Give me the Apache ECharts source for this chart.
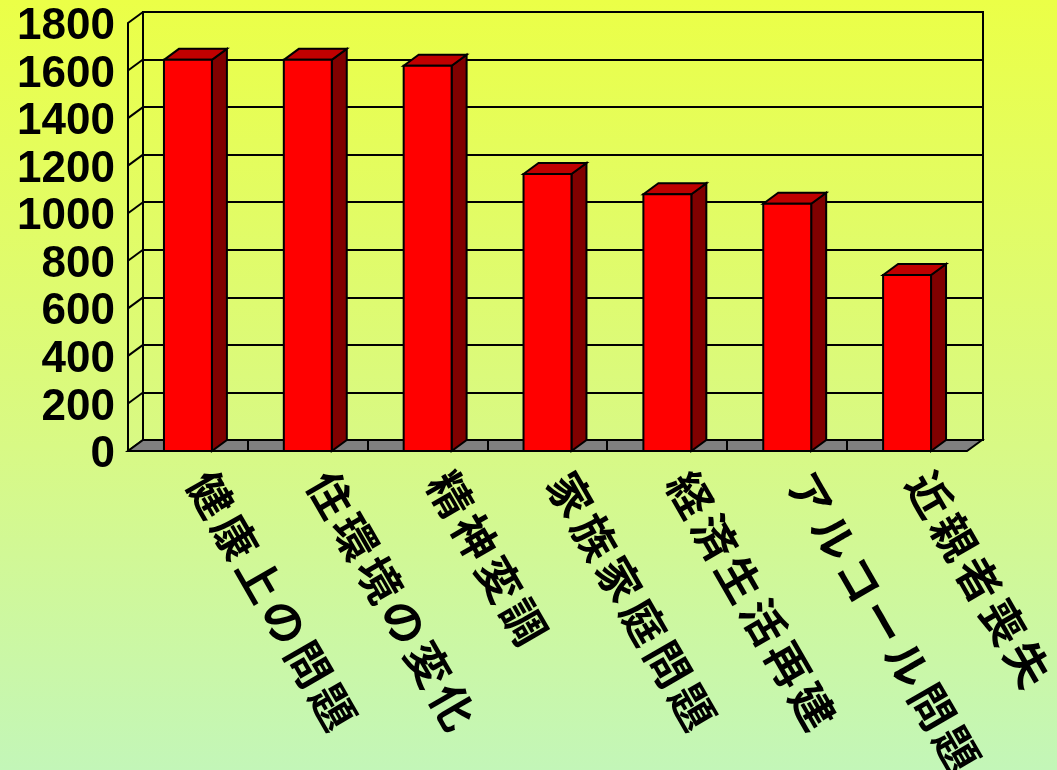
<!DOCTYPE html>
<html>
<head>
<meta charset="utf-8">
<script src="https://cdn.jsdelivr.net/npm/echarts@6/dist/echarts.min.js"></script>
<style>
  html, body { margin: 0; padding: 0; }
  #chart {
    width: 1057px; height: 770px;
    background: linear-gradient(to bottom, #ebff47 0%, #d8f985 58%, #c3f6b8 100%);
  }
</style>
</head>
<body>
<div id="chart"></div>
<script>
const categories = ['健康上の問題', '住環境の変化', '精神変調', '家族家庭問題', '経済生活再建', 'アルコール問題', '近親者喪失'];
const counts = [1645, 1645, 1620, 1165, 1080, 1040, 740];
const yTicks = [0, 200, 400, 600, 800, 1000, 1200, 1400, 1600, 1800];

const DX = 15, DY = -11;

const chart = echarts.init(document.getElementById('chart'), null, { renderer: 'canvas' });

const option = {
  backgroundColor: 'transparent',
  animation: false,
  grid: [
    { left: 128, top: 23, width: 839, height: 428, containLabel: false, outerBoundsMode: 'none' },
    { left: 143, top: 12, width: 840, height: 428, containLabel: false, outerBoundsMode: 'none',
      show: true, borderColor: '#000', borderWidth: 2, backgroundColor: 'transparent' }
  ],
  xAxis: [
    {
      type: 'category', gridIndex: 0, data: categories,
      axisLine: { show: false }, axisTick: { show: false },
      axisLabel: {
        interval: 0, rotate: -60, margin: 4, padding: [0, 0, 0, 21],
        color: '#000',
        formatter: v => Array.from(v).map(c => '{c|' + c + '}').join(''),
        rich: {
          c: { width: 49, align: 'center', fontSize: 44, fontWeight: 'bold',
               fontFamily: '"Noto Sans CJK JP", sans-serif', color: '#000' }
        }
      }
    },
    { type: 'category', gridIndex: 1, data: categories, show: false }
  ],
  yAxis: [
    {
      type: 'value', gridIndex: 0, min: 0, max: 1800, interval: 200,
      axisLine: { show: true, lineStyle: { color: '#000', width: 2 } },
      axisTick: { show: false },
      splitLine: { show: false },
      axisLabel: {
        margin: 13, color: '#000',
        formatter: v => '{n|' + v + '}',
        rich: {
          n: { fontSize: 44, fontWeight: 'bold', color: '#000',
               fontFamily: '"Liberation Sans", Arial, sans-serif',
               padding: [8, 0, 0, 0] }
        }
      }
    },
    {
      type: 'value', gridIndex: 1, min: 0, max: 1800, interval: 200,
      axisLine: { show: false }, axisTick: { show: false },
      axisLabel: { show: false },
      splitLine: { show: true, lineStyle: { color: '#000', width: 2 } }
    }
  ],
  series: [
    {
      type: 'custom', xAxisIndex: 0, yAxisIndex: 0,
      data: yTicks.map(v => [0, v]),
      encode: { x: 0, y: 1 },
      silent: true,
      renderItem: (params, api) => {
        const cs = params.coordSys;
        const p = api.coord([0, api.value(1)]);
        return {
          type: 'line',
          shape: { x1: cs.x, y1: p[1], x2: cs.x + DX, y2: p[1] + DY },
          style: { stroke: '#000', lineWidth: 2 }
        };
      }
    },
    {
      type: 'custom', xAxisIndex: 0, yAxisIndex: 0,
      data: [[0, 0]],
      encode: { x: 0, y: 1 },
      silent: true,
      renderItem: (params, api) => {
        const cs = params.coordSys;
        const yb = api.coord([0, 0])[1];
        const band = api.size([1, 0])[0];
        const children = [{
          type: 'polygon',
          shape: { points: [[cs.x, yb], [cs.x + cs.width, yb], [cs.x + cs.width + DX, yb + DY], [cs.x + DX, yb + DY]] },
          style: { fill: '#808080', stroke: '#000', lineWidth: 2 }
        }];
        for (let k = 1; k < categories.length; k++) {
          const x = Math.round(api.coord([k, 0])[0] - band / 2);
          children.push({
            type: 'line',
            shape: { x1: x, y1: yb, x2: x, y2: yb + DY },
            style: { stroke: '#000', lineWidth: 2 }
          });
        }
        return { type: 'group', children };
      }
    },
    {
      type: 'custom', xAxisIndex: 0, yAxisIndex: 0,
      data: counts.map((v, i) => [i, v]),
      encode: { x: 0, y: 1 },
      renderItem: (params, api) => {
        const i = api.value(0), v = api.value(1);
        const top = api.coord([i, v]);
        const base = api.coord([i, 0]);
        const band = api.size([1, 0])[0];
        const w = band * 0.4;
        const x0 = top[0] - w / 2, x1 = top[0] + w / 2;
        const yT = top[1], yB = base[1];
        const st = { stroke: '#000', lineWidth: 2, lineJoin: 'miter' };
        return {
          type: 'group',
          children: [
            { type: 'polygon',
              shape: { points: [[x1, yT], [x1 + DX, yT + DY], [x1 + DX, yB + DY], [x1, yB]] },
              style: Object.assign({ fill: '#800000' }, st) },
            { type: 'polygon',
              shape: { points: [[x0, yT], [x0 + DX, yT + DY], [x1 + DX, yT + DY], [x1, yT]] },
              style: Object.assign({ fill: '#c00000' }, st) },
            { type: 'rect',
              shape: { x: x0, y: yT, width: w, height: yB - yT },
              style: Object.assign({ fill: '#ff0000' }, st) }
          ]
        };
      }
    }
  ]
};

chart.setOption(option);
</script>
</body>
</html>
